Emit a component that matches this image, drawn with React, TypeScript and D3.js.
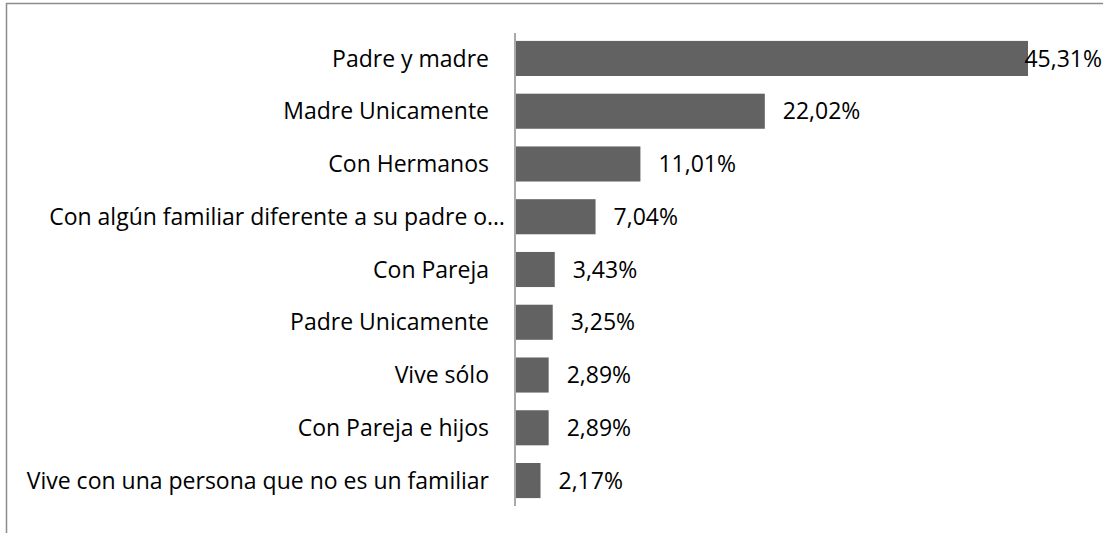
import React, { useEffect, useRef } from 'react';
import * as d3 from 'd3';

const categories = [
  'Padre y madre',
  'Madre Unicamente',
  'Con Hermanos',
  'Con algún familiar diferente a su padre o…',
  'Con Pareja',
  'Padre Unicamente',
  'Vive sólo',
  'Con Pareja e hijos',
  'Vive con una persona que no es un familiar',
];
const values = [45.31, 22.02, 11.01, 7.04, 3.43, 3.25, 2.89, 2.89, 2.17];
const valueLabels = ['45,31%', '22,02%', '11,01%', '7,04%', '3,43%', '3,25%', '2,89%', '2,89%', '2,17%'];

const W = 1103;
const H = 533;
const FONT = '"Open Sans", sans-serif';

export default function App() {
  const svgRef = useRef<SVGSVGElement>(null);

  useEffect(() => {
    document.body.style.margin = '0';
    if (!svgRef.current) return;
    const svg = d3.select(svgRef.current);
    svg.selectAll('*').remove();

    const axisX = 515;
    const x = d3.scaleLinear().domain([0, 45.31]).range([axisX + 1, 1028]);
    const y = d3.scaleBand<string>()
      .domain(categories)
      .range([33, 506])
      .paddingInner(0.335)
      .paddingOuter(0.15);

    // outer frame
    svg.append('rect')
      .attr('x', 6.5)
      .attr('y', 3.5)
      .attr('width', W + 10)
      .attr('height', H + 10)
      .attr('fill', 'white')
      .attr('stroke', '#8c8c8c')
      .attr('stroke-width', 1.5);

    const rows = categories.map((c, i) => ({ c, v: values[i], l: valueLabels[i] }));

    svg.selectAll('rect.bar')
      .data(rows)
      .enter()
      .append('rect')
      .attr('class', 'bar')
      .attr('x', x(0))
      .attr('y', d => y(d.c)!)
      .attr('width', d => x(d.v) - x(0))
      .attr('height', y.bandwidth())
      .attr('fill', '#626262');

    // axis line
    svg.append('line')
      .attr('x1', axisX).attr('x2', axisX)
      .attr('y1', 33).attr('y2', 506)
      .attr('stroke', '#8c8c8c')
      .attr('stroke-width', 1.5);

    // category labels (the truncated one sits closer to the axis, like Excel does)
    svg.selectAll('text.cat')
      .data(rows)
      .enter()
      .append('text')
      .attr('class', 'cat')
      .attr('x', d => (d.c.endsWith('…') ? axisX - 10 : axisX - 26))
      .attr('y', d => y(d.c)! + y.bandwidth() / 2)
      .attr('dy', '0.35em')
      .attr('text-anchor', 'end')
      .style('font-family', FONT)
      .style('font-size', '23px')
      .attr('fill', '#000')
      .text(d => d.c);

    // value labels
    svg.selectAll('text.val')
      .data(rows)
      .enter()
      .append('text')
      .attr('class', 'val')
      .attr('x', d => x(d.v) + 18)
      .attr('y', d => y(d.c)! + y.bandwidth() / 2)
      .attr('dy', '0.35em')
      .style('font-family', FONT)
      .style('font-size', '23px')
      .attr('fill', '#000')
      .text(d => d.l)
      .each(function () {
        const t = this as SVGTextElement;
        const w = t.getComputedTextLength();
        const x0 = +t.getAttribute('x')!;
        if (x0 + w > W - 1) {
          t.setAttribute('x', String(W - 1));
          t.setAttribute('text-anchor', 'end');
        }
      });
  }, []);

  return <svg ref={svgRef} width={W} height={H} style={{ display: 'block' }} />;
}
